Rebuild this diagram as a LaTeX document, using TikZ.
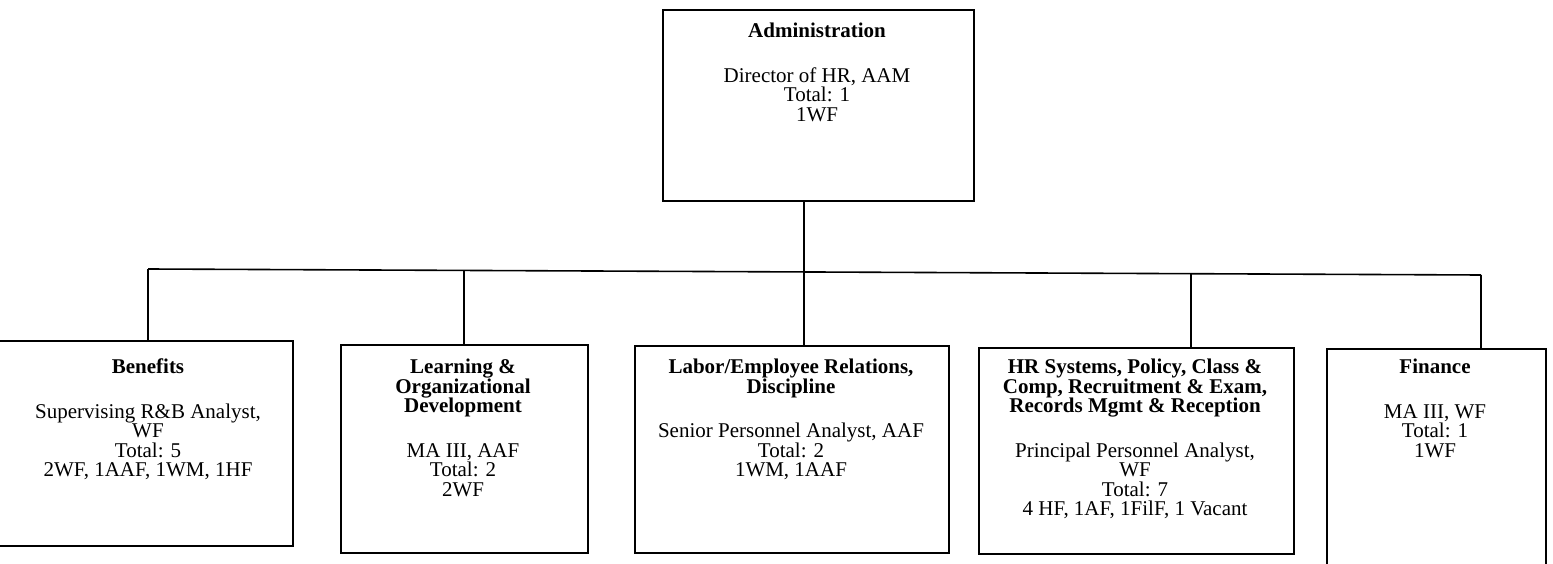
\documentclass[tikz,border=0pt]{standalone}
\usepackage{fontspec}
\setmainfont{Liberation Serif}
\usetikzlibrary{calc}
\begin{document}
\begin{tikzpicture}[x=1pt,y=-1pt,
  box/.style={draw,line width=1.6pt,inner sep=0pt,anchor=north west},
  txt/.style={align=center,inner sep=0pt,anchor=north,font=\fontsize{21}{19.5}\selectfont},
  link/.style={line width=1.6pt}]
\useasboundingbox (0,0) rectangle (1553,564);
% boxes
\node[box,minimum width=311pt,minimum height=191pt] (adm) at (662,9) {};
\node[box,minimum width=298pt,minimum height=205pt] (ben) at (-6,340) {};
\node[box,minimum width=247pt,minimum height=208pt] (lrn) at (340,344) {};
\node[box,minimum width=314pt,minimum height=207pt] (lab) at (634,345) {};
\node[box,minimum width=315pt,minimum height=206pt] (hrs) at (978,347) {};
\node[box,minimum width=219pt,minimum height=230pt] (fin) at (1326,348) {};
% texts
\node[txt] (admT) at (817,23) {\textbf{Administration}\\[25pt]Director of HR, AAM\\Total: 1\\1WF};
\node[txt] (benT) at (148,359) {\textbf{Benefits}\\[25pt]Supervising R\&B Analyst,\\WF\\Total: 5\\2WF, 1AAF, 1WM, 1HF};
\node[txt] (lrnT) at (463,359) {\textbf{Learning \&}\\\textbf{Organizational}\\\textbf{Development}\\[25pt]MA III, AAF\\Total: 2\\2WF};
\node[txt] (labT) at (791,359) {\textbf{Labor/Employee Relations,}\\\textbf{Discipline}\\[25pt]Senior Personnel Analyst, AAF\\Total: 2\\1WM, 1AAF};
\node[txt] (hrsT) at (1135,359) {\textbf{HR Systems, Policy, Class \&}\\\textbf{Comp, Recruitment \& Exam,}\\\textbf{Records Mgmt \& Reception}\\[25pt]Principal Personnel Analyst,\\WF\\Total: 7\\4 HF, 1AF, 1FilF, 1 Vacant};
\node[txt] (finT) at (1435,359) {\textbf{Finance}\\[25pt]MA III, WF\\Total: 1\\1WF};
% bus
\coordinate (b1) at (148,269);
\coordinate (b2) at (464,270.4);
\coordinate (b3) at (804,272);
\coordinate (b4) at (1191,273.7);
\coordinate (b5) at (1481,275);
\draw[link] (b1) -- (b5);
\draw[link] (b3 |- adm.south) -- (b3);
\draw[link] (b1) -- (b1 |- ben.north);
\draw[link] (b2) -- (b2 |- lrn.north);
\draw[link] (b3) -- (b3 |- lab.north);
\draw[link] (b4) -- (b4 |- hrs.north);
\draw[link] (b5) -- (b5 |- fin.north);
\end{tikzpicture}
\end{document}
